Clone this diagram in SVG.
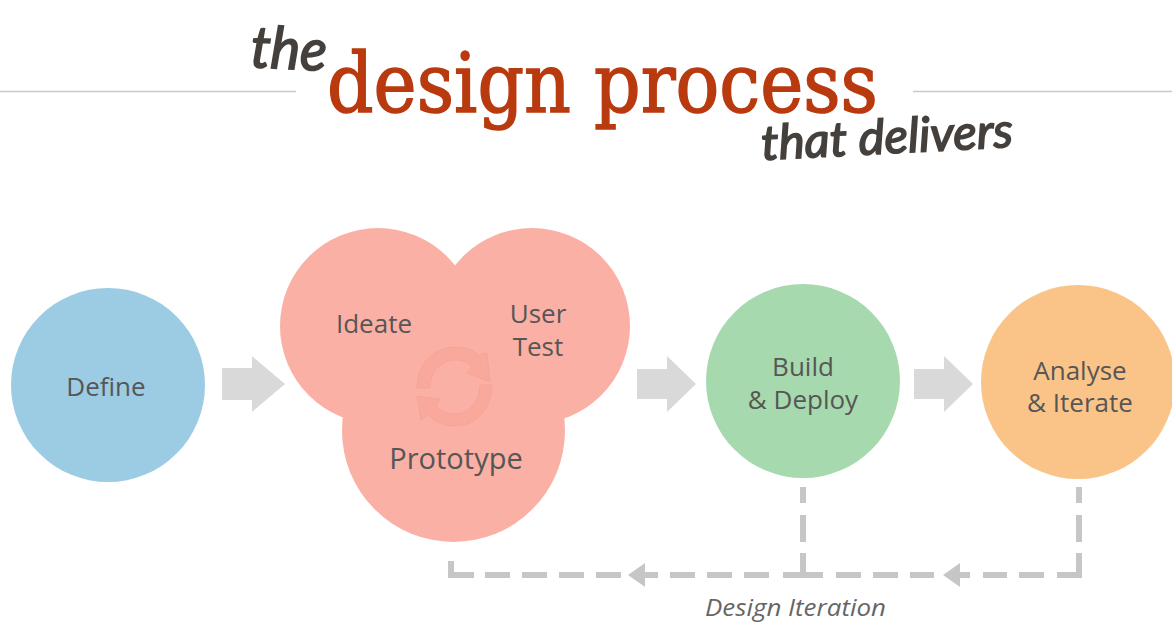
<svg xmlns="http://www.w3.org/2000/svg" width="1172" height="623" viewBox="0 0 1172 623">
<style>
.l{font-family:"Open Sans","Noto Sans",sans-serif;font-size:26px;fill:#565656;text-anchor:middle}
.h{font-family:"Lato","DejaVu Sans",sans-serif;font-style:italic;font-weight:400;fill:#45403c;stroke:#45403c;stroke-width:1.6}
.rule{stroke:#c9c9c9;stroke-width:1.5;fill:none}
.block{fill:#d9d9d9}
.dash{stroke:#c6c6c6;stroke-width:6;fill:none}
.head{fill:#c6c6c6}
.pink{fill:#fbb0a5}
.icon{fill:#f9a89c;stroke:#f59e92;stroke-width:.6}
</style>
<rect width="1172" height="623" fill="#fff"/>
<g id="title">
<path class="rule" d="M0 91.500H296M913 91.500H1172"/>
<text x="327" y="112" textLength="551" lengthAdjust="spacingAndGlyphs" font-family="'DejaVu Serif',serif" font-size="82" fill="#b93a0f" stroke="#b93a0f" stroke-width="1.6">design process</text>
<text class="h" transform="translate(250 67) rotate(3)" font-size="58" textLength="76" lengthAdjust="spacingAndGlyphs">the</text>
<text class="h" transform="translate(762 160) rotate(-3)" font-size="48" textLength="252" lengthAdjust="spacingAndGlyphs">that delivers</text>
</g>
<g id="connectors">
<path class="block" d="M222 368H252V356L285 384L252 412V400H222Z"/>
<path class="block" d="M637 369H667V356L696 384L667 412V399H637Z"/>
<path class="block" d="M914 369H944V356L973 384L944 412V399H914Z"/>
<path class="dash" d="M451 561V575H474M485 575H510M522 575H547M559 575H584M596 575H621M645 575H658M670 575H695M707 575H732M744 575H769M783 575H823M836 575H861M873 575H898M910 575H934M957 575H970M983 575H1007M1019 575H1044M1057 575H1079V553M1079 542V515M1079 503V487M803 487V503M803 515V542M803 553V575"/>
<path class="head" d="M628 575L645 563V587Z"/>
<path class="head" d="M943 575L960 563V587Z"/>
</g>
<g id="define">
<circle cx="108" cy="385" r="97" fill="#9ccbe4"/>
<text class="l" x="106" y="396">Define</text>
</g>
<g id="cycle">
<circle class="pink" cx="378" cy="326" r="98"/>
<circle class="pink" cx="532" cy="326" r="98"/>
<circle class="pink" cx="453.500" cy="430.500" r="111.500"/>
</g>
<g id="refresh-icon">
<path class="icon" d="M417 388C417 364 434 347 456 347C465 347 473 350 479 355L487 353L490 382L467 373L472 367C467 362 461 360 455 360C441 360 430 372 430 388Z"/>
<path class="icon" d="M492 385C492 408 476 426 455 426C444 426 435 422 428 415L421 420L417 396L440 399L436 406C441 411 448 414 455 414C469 414 480 401 480 385Z"/>
</g>
<g id="ideate"><text class="l" x="374" y="333">Ideate</text></g>
<g id="user-test"><text class="l" x="538" y="323">User</text><text class="l" x="538" y="356">Test</text></g>
<g id="prototype"><text class="l" x="456" y="469" style="font-size:29px">Prototype</text></g>
<g id="build">
<circle cx="803" cy="381" r="97" fill="#a7d9ae"/>
<text class="l" x="803" y="376">Build</text>
<text class="l" x="803" y="409">&amp; Deploy</text>
</g>
<g id="analyse">
<circle cx="1078" cy="382" r="97" fill="#fac488"/>
<text class="l" x="1080" y="380">Analyse</text>
<text class="l" x="1080" y="412">&amp; Iterate</text>
</g>
<g id="design-iteration">
<text x="705" y="616" textLength="181" lengthAdjust="spacingAndGlyphs" font-family="'Open Sans','Noto Sans',sans-serif" font-style="italic" font-size="24" fill="#666">Design Iteration</text>
</g>
</svg>
